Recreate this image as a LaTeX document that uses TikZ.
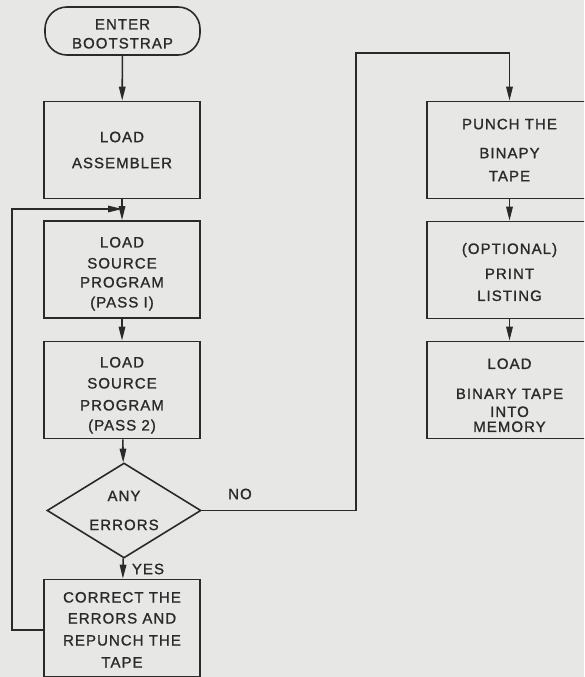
\documentclass[tikz,border=0pt]{standalone}
\usepackage{fontspec}
\setmainfont{Liberation Sans}[LetterSpace=7, FakeBold=1.2]
\usetikzlibrary{arrows.meta,shapes.geometric}
\definecolor{bg}{RGB}{231,231,229}
\definecolor{ink}{RGB}{42,42,42}
\newcommand\mystrut[1]{\rule{0pt}{#1}}
\begin{document}
\begin{tikzpicture}[x=1pt,y=-1pt,
  every node/.style={text=ink, font=\fontsize{15}{15}\selectfont},
  box/.style={draw=ink, line width=1.6pt, minimum width=156pt, minimum height=97pt, align=center, inner sep=0pt},
  rbox/.style={box, minimum width=165pt},
  term/.style={draw=ink, line width=1.6pt, rectangle, rounded corners=22pt, minimum width=155pt, minimum height=48pt, align=center, inner sep=0pt},
  decision/.style={draw=ink, line width=1.6pt, diamond, aspect=1.62, minimum width=154pt, minimum height=95pt, align=center, inner sep=0pt},
  conn/.style={draw=ink, line width=1.6pt},
  arr/.style={conn, -{Triangle[length=14pt,width=6.5pt]}},
  lbl/.style={font=\fontsize{15}{15}\selectfont}
]
\fill[bg] (0,0) rectangle (584,677);
\useasboundingbox (0,0) rectangle (584,677);
\clip (0,0) rectangle (584,677);

% left column
\node[term] (start) at (122.5,31) {\mystrut{16pt}ENTER\\[4pt]BOOTSTRAP};
\node[box] (asm) at (122,150) {LOAD\\[11pt]ASSEMBLER};
\node[box] (p1) at (122,269.5) {\mystrut{19pt}LOAD\\[6pt]SOURCE\\[4pt]PROGRAM\\[5pt](PASS I)};
\node[box] (p2) at (122,390) {\mystrut{21pt}LOAD\\[6pt]SOURCE\\[7pt]PROGRAM\\[5pt](PASS 2)};
\node[decision] (dec) at (124,510.5) {ANY\\[14pt]ERRORS};
\node[box] (corr) at (122,628) {\mystrut{14pt}CORRECT THE\\[6pt]ERRORS AND\\[7pt]REPUNCH THE\\[7pt]TAPE};

% right column
\node[rbox] (punch) at (509.5,150) {PUNCH THE\\[14pt]BINAPY\\[8pt]TAPE};
\node[rbox] (opt) at (509.5,270) {\mystrut{15pt}(OPTIONAL)\\[10pt]PRINT\\[7pt]LISTING};
\node[rbox] (bin) at (509.5,390) {\mystrut{21pt}LOAD\\[15pt]BINARY TAPE\\[3pt]INTO\\[0pt]MEMORY};

% junction / route points
\coordinate (j) at (122,209);
\coordinate (fbl) at (12,630);
\coordinate (fbt) at (12,209);
\coordinate (nor) at (356,510.5);
\coordinate (nort) at (356,53);
\coordinate (not) at (509.5,53);

% connectors
\draw[arr] (start) -- (asm);
\draw[arr] (asm) -- (p1);
\draw[arr] (p1) -- (p2);
\draw[arr] (p2) -- (dec);
\draw[arr] (dec) -- (corr);
\draw[arr] (corr.west |- fbl) -- (fbl) -- (fbt) -- (j);
\draw[conn] (dec.east) -- (nor) -- (nort) -- (not);
\draw[arr] (not) -- (punch);
\draw[arr] (punch) -- (opt);
\draw[arr] (opt) -- (bin);

% labels
\node[lbl] (no) at (240,494) {NO};
\node[lbl] (yes) at (148,569) {YES};
\end{tikzpicture}
\end{document}
